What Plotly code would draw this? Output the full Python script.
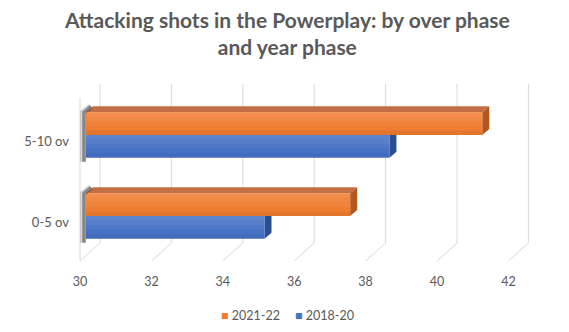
import plotly.graph_objects as go

# ---- data ----
categories = ["0-5 ov", "5-10 ov"]
series_2021_22 = [37.4, 41.1]
series_2018_20 = [35.0, 38.5]
x_ticks = [30, 32, 34, 36, 38, 40, 42]
axis_min = 30
legend_names = ["2021-22", "2018-20"]

# ---- layout constants (pixels) ----
W, H = 569, 332
L, R = 70, 540          # plot area left/right
T, B = 84, 262          # plot area top/bottom
PX_X = 35.7             # pixels per x unit
BAR_START_PX = 86       # where x=30 sits on the bar plane
x0 = axis_min - (BAR_START_PX - L) / PX_X
x1 = x0 + (R - L) / PX_X
y_lo, y_hi = -0.568, 1.630
PX_Y = (B - T) / (y_hi - y_lo)
BARGAP = 0.44
half = (1 - BARGAP) / 2

DX_BACK = 14 / PX_X     # back wall offset
DX_FRONT = -6 / PX_X    # front floor offset
DDX = 7 / PX_X          # bar depth
DDY = 6 / PX_Y

def pb(p):
    return (B - p) / (B - T)

def px_paper_x(p):
    return (p - L) / (R - L)

ORANGE = "#F07D31"
BLUE = "#4672C6"
ORANGE_TOP = "#C26F45"
ORANGE_SIDE = "#B4561E"
BLUE_SIDE = "#2A4F90"
GRID = "#D9D9D9"
TXT = "#595959"
FONT = "Lato"

ypos = list(range(len(categories)))

fig = go.Figure()
fig.add_trace(go.Bar(
    y=ypos, x=[v - axis_min for v in series_2018_20], base=axis_min,
    orientation="h", name=legend_names[1], marker=dict(color=BLUE, line=dict(width=0)),
))
fig.add_trace(go.Bar(
    y=ypos, x=[v - axis_min for v in series_2021_22], base=axis_min,
    orientation="h", name=legend_names[0], marker=dict(color=ORANGE, line=dict(width=0)),
))

shapes = []
# back wall gridlines and floor diagonals
for t in x_ticks:
    shapes.append(dict(type="line", xref="x", yref="paper", x0=t + DX_BACK, x1=t + DX_BACK,
                       y0=pb(243), y1=pb(T), line=dict(color=GRID, width=1), layer="below"))
    shapes.append(dict(type="line", xref="x", yref="paper", x0=t + DX_BACK, x1=t + DX_FRONT,
                       y0=pb(243), y1=pb(261), line=dict(color=GRID, width=1), layer="below"))
# left wall front edge
shapes.append(dict(type="line", xref="x", yref="paper", x0=axis_min + DX_FRONT, x1=axis_min + DX_FRONT,
                   y0=pb(261), y1=pb(98), line=dict(color=GRID, width=1), layer="below"))

bands = [(0.8, 1.0, "rgba(255,255,255,0.13)"), (0.6, 0.8, "rgba(255,255,255,0.09)"),
         (0.4, 0.6, "rgba(255,255,255,0.05)"), (0.0, 0.2, "rgba(0,0,0,0.05)")]

# bar 3D faces
for i, c in enumerate(ypos):
    vb = series_2018_20[i]
    vo = series_2021_22[i]
    yb0, yb1 = c - half, c
    yo0, yo1 = c, c + half
    shapes.append(dict(type="path", xref="x", yref="y", layer="below", line=dict(width=0),
                       fillcolor=BLUE_SIDE,
                       path=f"M{vb},{yb0} L{vb+DDX},{yb0+DDY} L{vb+DDX},{yb1+DDY} L{vb},{yb1} Z"))
    shapes.append(dict(type="path", xref="x", yref="y", layer="below", line=dict(width=0),
                       fillcolor=ORANGE_SIDE,
                       path=f"M{vo},{yo0} L{vo+DDX},{yo0+DDY} L{vo+DDX},{yo1+DDY} L{vo},{yo1} Z"))
    shapes.append(dict(type="path", xref="x", yref="y", layer="below", line=dict(width=0),
                       fillcolor=ORANGE_TOP,
                       path=f"M{axis_min},{yo1} L{vo},{yo1} L{vo+DDX},{yo1+DDY} L{axis_min+DDX},{yo1+DDY} Z"))
    for v, y0_, y1_ in ((vb, yb0, yb1), (vo, yo0, yo1)):
        for f0, f1, col in bands:
            shapes.append(dict(type="rect", xref="x", yref="y", layer="above", line=dict(width=0),
                               fillcolor=col, x0=axis_min, x1=v,
                               y0=y0_ + (y1_ - y0_) * f0, y1=y0_ + (y1_ - y0_) * f1))
    # left shadow
    for off, wdt, col in ((-3, 6, "rgba(70,70,70,0.22)"), (-2, 3.5, "rgba(40,40,40,0.45)")):
        sx = axis_min + off / PX_X
        shapes.append(dict(type="path", xref="x", yref="y", layer="above",
                           line=dict(color=col, width=wdt),
                           path=f"M{sx},{yb0 - 4/PX_Y} L{sx},{yo1} L{axis_min + 5/PX_X},{yo1 + DDY}"))

# manual legend as text (two entries)
colors_for_legend = [ORANGE, BLUE]
legend_left_px = [219, 293]
annotations = []
for c, n, lx in zip(colors_for_legend, legend_names, legend_left_px):
    annotations.append(dict(text=f"<span style='color:{c}'>■</span> {n}",
                            xref="paper", yref="paper", showarrow=False,
                            x=px_paper_x(lx), y=(B - 315) / (B - T),
                            xanchor="left", yanchor="middle",
                            font=dict(family=FONT, size=12.5, color=TXT)))

fig.update_layout(
    width=W, height=H,
    margin=dict(l=L, r=W - R, t=T, b=H - B, pad=0),
    paper_bgcolor="white", plot_bgcolor="white",
    barmode="group", bargap=BARGAP, bargroupgap=0,
    font=dict(family=FONT, size=12, color=TXT),
    title=dict(text="Attacking shots in the Powerplay: by over phase<br>and year phase",
               font=dict(family=FONT, size=21, color=TXT, weight="bold"),
               x=0.505, xref="container", xanchor="center",
               y=1 - 28 / H, yref="container", yanchor="top"),
    xaxis=dict(range=[x0, x1], tickvals=x_ticks, showgrid=False, zeroline=False,
               showline=False, ticks="", ticklabelshift=-6, ticklabelstandoff=10,
               tickfont=dict(family=FONT, size=12.5, color=TXT)),
    yaxis=dict(range=[y_lo, y_hi], tickvals=ypos, ticktext=categories, showgrid=False,
               zeroline=False, showline=False, ticks="", ticklabelshift=6,
               tickfont=dict(family=FONT, size=13, color=TXT)),
    showlegend=False,
    annotations=annotations,
    shapes=shapes,
)

fig.write_html("out.html")
